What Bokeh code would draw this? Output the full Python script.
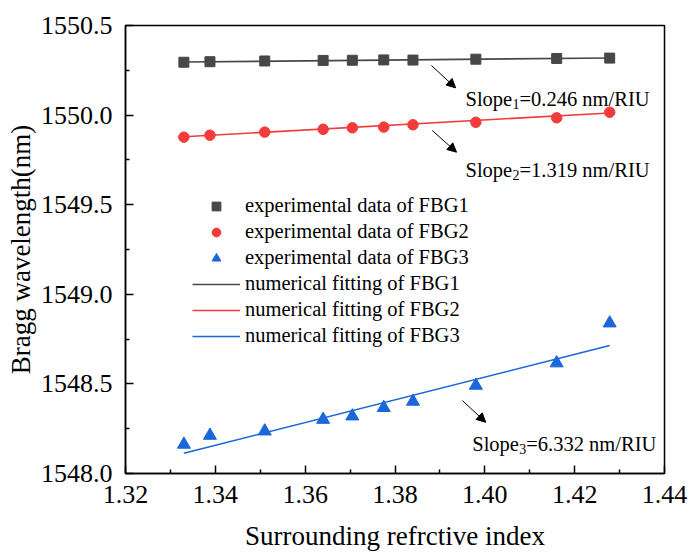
from bokeh.plotting import figure
from bokeh.models import (Legend, LegendItem, Label, Arrow, NormalHead, FixedTicker,
                          PrintfTickFormatter, Range1d)
from bokeh.embed import file_html
from bokeh.resources import INLINE

# ---------------- data ----------------
ri = [1.3330, 1.3388, 1.3510, 1.3640, 1.3705, 1.3775, 1.3840, 1.3980, 1.4160, 1.4278]
fbg1 = [1550.295, 1550.298, 1550.302, 1550.305, 1550.306, 1550.308, 1550.307, 1550.312, 1550.316, 1550.318]
fbg2 = [1549.877, 1549.888, 1549.905, 1549.921, 1549.929, 1549.933, 1549.946, 1549.960, 1549.985, 1550.016]
fbg3 = [1548.162, 1548.212, 1548.236, 1548.301, 1548.320, 1548.367, 1548.402, 1548.491, 1548.616, 1548.839]

fit_x = [1.3330, 1.4278]
fit1 = [1550.296, 1550.319]
fit2 = [1549.879, 1550.012]
fit3 = [1548.113, 1548.714]

x_ticks = [1.32, 1.34, 1.36, 1.38, 1.40, 1.42, 1.44]
y_ticks = [1548.0, 1548.5, 1549.0, 1549.5, 1550.0, 1550.5]

slope_labels = [("Slope", "1", "=0.246 nm/RIU"),
                ("Slope", "2", "=1.319 nm/RIU"),
                ("Slope", "3", "=6.332 nm/RIU")]
slope_pos = [(1.3957, 1550.091), (1.3957, 1549.691), (1.3972, 1548.166)]
arrows = [((1.3881, 1550.277), (1.3935, 1550.152)),
          ((1.3883, 1549.914), (1.3937, 1549.793)),
          ((1.3950, 1548.407), (1.4002, 1548.286))]

C1, C2, C3 = "#474747", "#f23b3b", "#1a67d9"
FONT = "Liberation Serif"

p = figure(width=689, height=553, output_backend="svg", toolbar_location=None,
           x_range=Range1d(1.32, 1.44), y_range=Range1d(1548.0, 1550.5),
           min_border_left=125, min_border_right=25, min_border_top=25, min_border_bottom=80)
p.grid.visible = False
p.outline_line_color = "black"
p.outline_line_width = 1.5
p.background_fill_color = "white"
p.border_fill_color = "white"

for ax in (p.xaxis[0], p.yaxis[0]):
    ax.axis_line_width = 1.5
    ax.major_tick_in = 8
    ax.major_tick_out = 0
    ax.minor_tick_in = 4
    ax.minor_tick_out = 0
    ax.major_tick_line_width = 1.5
    ax.minor_tick_line_width = 1.5
    ax.major_label_text_font = FONT
    ax.major_label_text_font_size = "26px"
    ax.major_label_text_color = "black"
    ax.axis_label_text_font = FONT
    ax.axis_label_text_font_size = "27px"
    ax.axis_label_text_font_style = "normal"
    ax.axis_label_text_color = "black"

p.xaxis.ticker = FixedTicker(ticks=x_ticks, minor_ticks=[1.33, 1.35, 1.37, 1.39, 1.41, 1.43])
p.yaxis.ticker = FixedTicker(ticks=y_ticks,
                             minor_ticks=[1548.25, 1548.75, 1549.25, 1549.75, 1550.25])
p.xaxis.formatter = PrintfTickFormatter(format="%.2f")
p.yaxis.formatter = PrintfTickFormatter(format="%.1f")
p.xaxis.axis_label = "Surrounding refrctive index"
p.yaxis.axis_label = "Bragg wavelength(nm)"
p.xaxis.major_label_standoff = 12
p.yaxis.major_label_standoff = 13
p.xaxis.axis_label_standoff = 15
p.yaxis.axis_label_standoff = 2

l1 = p.line(fit_x, fit1, line_color=C1, line_width=1.6)
l2 = p.line(fit_x, fit2, line_color=C2, line_width=1.6)
l3 = p.line(fit_x, fit3, line_color=C3, line_width=1.6)
s1 = p.scatter(ri, fbg1, marker="square", size=10, fill_color=C1, line_color=C1)
s2 = p.scatter(ri, fbg2, marker="circle", size=10.5, fill_color=C2, line_color=C2)
s3 = p.scatter(ri, fbg3, marker="triangle", size=13, fill_color=C3, line_color=C3)

legend = Legend(items=[
    LegendItem(label="experimental data of FBG1", renderers=[s1]),
    LegendItem(label="experimental data of FBG2", renderers=[s2]),
    LegendItem(label="experimental data of FBG3", renderers=[s3]),
    LegendItem(label="numerical fitting of FBG1", renderers=[l1]),
    LegendItem(label="numerical fitting of FBG2", renderers=[l2]),
    LegendItem(label="numerical fitting of FBG3", renderers=[l3]),
], location=(67, 126), padding=0, margin=0, spacing=3,
    glyph_width=48, glyph_height=22, label_height=22, label_standoff=5,
    label_text_font=FONT, label_text_font_size="20.5px", label_text_color="black",
    border_line_color=None, background_fill_alpha=0)
p.add_layout(legend, "center")

for (a, b) in arrows:
    p.add_layout(Arrow(x_start=a[0], y_start=a[1], x_end=b[0], y_end=b[1],
                       line_color="black", line_width=1,
                       end=NormalHead(size=9, fill_color="black", line_color="black")))

for (main, sub, rest), (x, y) in zip(slope_labels, slope_pos):
    p.add_layout(Label(x=x, y=y, text=main, text_font=FONT, text_font_size="20.5px",
                       text_baseline="alphabetic", text_color="black"))
    p.add_layout(Label(x=x, y=y, x_offset=47, y_offset=-5, text=sub, text_font=FONT,
                       text_font_size="14px", text_baseline="alphabetic", text_color="black"))
    p.add_layout(Label(x=x, y=y, x_offset=54, text=rest, text_font=FONT, text_font_size="20.5px",
                       text_baseline="alphabetic", text_color="black"))

open("out.html", "w").write(file_html(p, INLINE))
